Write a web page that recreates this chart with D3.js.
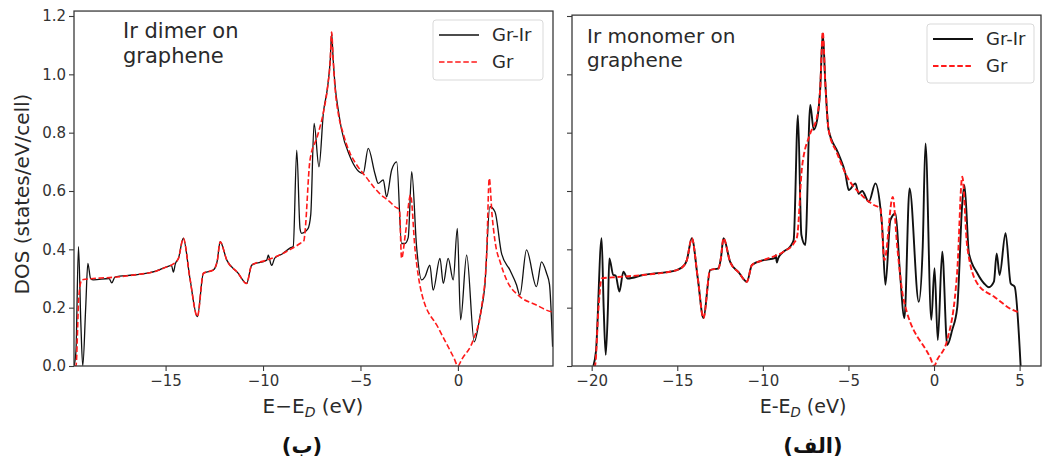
<!DOCTYPE html>
<html><head><meta charset="utf-8">
<script src="https://cdn.jsdelivr.net/npm/d3@7"></script>
<style>
body{margin:0;background:#fff;}
svg{display:block;font-family:"DejaVu Sans",sans-serif;}
</style></head>
<body><svg id="c" width="1043" height="467"></svg>
<script>
// ---------- DATA ----------
// Left panel (Ir dimer on graphene)
const dimerGrE = [-19.7,-19.6,-19.45,-19.3,-18.7,-17.5,-16.65,-15.5,-14.94,-14.6,-14.34,-14.09,-13.75,-13.37,-13.06,-12.55,-12.35,-12.2,-11.86,-11.3,-10.84,-10.58,-9.81,-9.0,-8.6,-8.1,-7.9,-7.85,-7.59,-7.2,-6.9,-6.7,-6.55,-6.48,-6.4,-6.3,-6.14,-5.9,-5.54,-5.2,-4.68,-4.3,-4.0,-3.49,-3.23,-3.0,-2.89,-2.7,-2.43,-2.2,-1.86,-1.0,-0.2,0,0.2,0.79,1.21,1.47,1.61,1.75,1.9,2.2,2.5,3.18,4.0,4.8,4.9];
const dimerGrD = [0,0,0.24,0.295,0.30,0.305,0.312,0.325,0.34,0.35,0.369,0.438,0.30,0.169,0.318,0.329,0.36,0.426,0.363,0.32,0.283,0.346,0.363,0.385,0.40,0.42,0.43,0.456,0.706,0.79,0.87,0.95,1.05,1.145,1.05,0.95,0.866,0.80,0.73,0.69,0.645,0.612,0.59,0.563,0.546,0.535,0.369,0.45,0.586,0.40,0.249,0.13,0.027,0,0.023,0.09,0.20,0.375,0.643,0.52,0.43,0.35,0.295,0.238,0.21,0.186,0.185];
const dimerGrIrE = [-19.7,-19.6,-19.47,-19.35,-19.25,-19.1,-18.99,-18.85,-18.7,-17.9,-17.76,-17.6,-16.65,-15.5,-14.94,-14.7,-14.6,-14.5,-14.34,-14.09,-13.75,-13.37,-13.06,-12.55,-12.35,-12.2,-11.86,-11.3,-10.84,-10.58,-9.81,-9.73,-9.6,-9.55,-9.4,-9.0,-8.6,-8.45,-8.27,-8.1,-8.02,-7.7,-7.55,-7.38,-7.13,-6.9,-6.7,-6.55,-6.48,-6.4,-6.3,-6.14,-5.97,-5.54,-4.86,-4.6,-4.26,-4.09,-3.83,-3.66,-3.4,-3.14,-2.89,-2.72,-2.55,-2.37,-2.12,-1.86,-1.69,-1.44,-1.27,-0.92,-0.75,-0.5,-0.24,-0.03,0.14,0.45,0.84,1.13,1.38,1.64,1.9,2.24,2.67,3.01,3.18,3.52,4.03,4.29,4.55,4.7,4.86];
const dimerGrIrD = [0,0.05,0.409,0.15,0,0.2,0.352,0.30,0.295,0.30,0.285,0.305,0.312,0.325,0.34,0.345,0.322,0.35,0.369,0.438,0.30,0.169,0.318,0.329,0.36,0.426,0.363,0.32,0.283,0.346,0.363,0.38,0.35,0.345,0.37,0.385,0.405,0.41,0.74,0.47,0.455,0.47,0.52,0.832,0.683,0.87,0.95,1.05,1.14,1.05,0.96,0.878,0.81,0.718,0.66,0.746,0.66,0.626,0.638,0.58,0.672,0.70,0.42,0.42,0.44,0.666,0.409,0.295,0.306,0.346,0.26,0.369,0.283,0.369,0.295,0.472,0.158,0.38,0.083,0.169,0.272,0.546,0.529,0.386,0.329,0.278,0.243,0.398,0.272,0.357,0.318,0.28,0.066];

// Right panel (Ir monomer on graphene)
const monoGrE = [-19.9,-19.81,-19.6,-19.42,-18.5,-17.0,-15.03,-14.6,-14.44,-14.15,-13.8,-13.47,-13.08,-12.59,-12.45,-12.3,-11.91,-11.4,-10.93,-10.64,-9.96,-8.79,-8.2,-8.0,-7.71,-7.23,-6.83,-6.65,-6.5,-6.35,-6.16,-5.66,-5.08,-4.3,-3.52,-3.13,-2.9,-2.41,-2.15,-1.77,-0.2,0,0.2,0.77,1.36,1.65,1.94,2.53,3.5,4.87,4.95];
const monoGrD = [0,0,0.2,0.30,0.305,0.312,0.329,0.345,0.363,0.438,0.30,0.164,0.329,0.335,0.37,0.438,0.357,0.32,0.289,0.346,0.363,0.392,0.42,0.443,0.683,0.797,0.855,0.95,1.146,0.97,0.81,0.729,0.649,0.59,0.552,0.54,0.363,0.58,0.409,0.226,0.026,0,0.023,0.089,0.329,0.649,0.409,0.283,0.238,0.186,0.185];
const monoGrIrE = [-19.9,-19.75,-19.42,-19.3,-19.18,-19.05,-18.97,-18.74,-18.6,-18.38,-18.15,-17.9,-17.0,-15.03,-14.6,-14.44,-14.15,-13.8,-13.47,-13.08,-12.59,-12.45,-12.3,-11.91,-11.4,-10.93,-10.64,-9.96,-9.3,-9.25,-9.18,-9.1,-8.79,-8.4,-8.2,-7.95,-7.75,-7.52,-7.23,-7.03,-6.83,-6.65,-6.5,-6.35,-6.16,-5.6,-5.18,-4.98,-4.59,-4.4,-4.2,-3.81,-3.42,-3.13,-3.03,-2.84,-2.55,-2.25,-2.0,-1.73,-1.43,-0.89,-0.66,-0.5,-0.16,0.03,0.22,0.48,0.77,1.06,1.36,1.65,1.78,2.04,2.53,3.01,3.2,3.5,3.66,3.83,4.18,4.48,4.71,5.06];
const monoGrIrD = [0,0.05,0.438,0.2,0.038,0.2,0.369,0.312,0.31,0.255,0.323,0.30,0.312,0.329,0.345,0.363,0.438,0.30,0.164,0.329,0.335,0.37,0.438,0.357,0.32,0.289,0.346,0.363,0.37,0.38,0.355,0.37,0.392,0.41,0.432,0.86,0.45,0.415,0.895,0.81,0.843,0.95,1.14,0.97,0.81,0.73,0.66,0.603,0.626,0.59,0.60,0.563,0.626,0.54,0.478,0.278,0.50,0.523,0.329,0.164,0.609,0.22,0.409,0.763,0.158,0.335,0.089,0.392,0.072,0.123,0.203,0.558,0.62,0.386,0.318,0.278,0.27,0.289,0.386,0.312,0.455,0.283,0.272,0];

const yTicks = [0,0.2,0.4,0.6,0.8,1.0,1.2];
const dimerXTicks = [-15,-10,-5,0];
const monoXTicks = [-20,-15,-10,-5,0,5];
const seriesNames = ["Gr-Ir","Gr"];

// ---------- DRAW ----------
const svg = d3.select("#c");
const textCol = "#2a2a2a", axisCol = "#3a3a3a";

function panel(o){
  const x = d3.scaleLinear().domain(o.xDomain).range([o.left, o.right]);
  const y = d3.scaleLinear().domain([0,1.2]).range([366,16]);
  const g = svg.append("g");
  const top = y(o.yMax), bottom = y(0);

  const line = d3.line().x(d=>x(d[0])).y(d=>y(d[1])).curve(d3.curveMonotoneX);
  const clipId = "clip"+o.id;
  g.append("clipPath").attr("id",clipId).append("rect")
    .attr("x",o.left).attr("y",top).attr("width",o.right-o.left).attr("height",bottom-top);
  g.append("path").datum(d3.zip(o.grIrE,o.grIrD)).attr("d",line)
    .attr("clip-path",`url(#${clipId})`)
    .attr("fill","none").attr("stroke","#111").attr("stroke-width",o.blackW).attr("stroke-linejoin","round");
  g.append("path").datum(d3.zip(o.grE,o.grD)).attr("d",line)
    .attr("clip-path",`url(#${clipId})`)
    .attr("fill","none").attr("stroke","#ff1a1a").attr("stroke-width",o.redW)
    .attr("stroke-dasharray","5.5,2.6");

  const ax = g.append("g").attr("transform",`translate(0,${bottom})`)
    .call(d3.axisBottom(x).tickValues(o.xTicks).tickSize(5).tickSizeOuter(0).tickPadding(4));
  const ay = g.append("g").attr("transform",`translate(${o.left},0)`)
    .call(d3.axisLeft(y).tickValues(yTicks).tickSize(5).tickSizeOuter(0).tickPadding(3)
      .tickFormat(o.yLabels ? d3.format(".1f") : ""));
  [ax,ay].forEach(a=>{
    a.select(".domain").remove();
    a.selectAll("line").attr("stroke",axisCol).attr("stroke-width",1.1);
    a.selectAll("text").attr("fill","#333").style("font-size","15px").style("font-family","DejaVu Sans");
  });
  g.append("rect").attr("x",o.left).attr("y",top).attr("width",o.right-o.left).attr("height",bottom-top)
    .attr("fill","none").attr("stroke",axisCol).attr("stroke-width",1.3);

  const ann = g.append("text").attr("x",o.annX).attr("y",o.annY).attr("fill",textCol)
    .style("font-size",o.annSize+"px");
  o.annLines.forEach((t,i)=>ann.append("tspan").attr("x",o.annX).attr("dy",i?o.annSize*1.2:0).text(t));

  const lg = g.append("g");
  lg.append("rect").attr("x",o.lgX).attr("y",o.lgY).attr("width",o.lgW).attr("height",o.lgH)
    .attr("rx",3).attr("fill","#fff").attr("fill-opacity",0.8).attr("stroke","#d9d9d9");
  seriesNames.forEach((n,i)=>{
    const yy = o.lgY + 15 + i*27;
    lg.append("line").attr("x1",o.lgX+6).attr("x2",o.lgX+46).attr("y1",yy).attr("y2",yy)
      .attr("stroke", i? "#ff1a1a":"#111").attr("stroke-width", i? o.redW : o.blackW)
      .attr("stroke-dasharray", i? "5.5,2.6":null);
    lg.append("text").attr("x",o.lgX+59).attr("y",yy+6).attr("fill",textCol)
      .style("font-size","18px").text(n);
  });

  const xl = g.append("text").attr("x",o.xlX).attr("y",413).attr("text-anchor","middle")
    .attr("fill",textCol).style("font-size",o.xlSize+"px");
  xl.append("tspan").text(o.xlPrefix);
  xl.append("tspan").attr("font-style","italic").attr("dy",4).style("font-size",(o.xlSize*0.7)+"px").text("D");
  xl.append("tspan").attr("dy",-4).text(" (eV)");

  g.append("text").attr("x",o.capX).attr("y",453).attr("text-anchor","middle")
    .attr("fill","#111").attr("font-weight","bold").style("font-size","21px").text(o.caption);
}

panel({id:"a", left:74, right:553, xDomain:[-19.7,4.88], yMax:1.217,
  grE:dimerGrE, grD:dimerGrD, grIrE:dimerGrIrE, grIrD:dimerGrIrD,
  xTicks:dimerXTicks, yLabels:true, blackW:1.3, redW:1.6,
  annX:123, annY:38, annSize:21, annLines:["Ir dimer on","graphene"],
  lgX:433, lgY:20, lgW:110, lgH:60,
  xlX:313, xlSize:20, xlPrefix:"E\u2212E", caption:"(ب)", capX:302});

panel({id:"b", left:572, right:1041, xDomain:[-21.15,6.25], yMax:1.203,
  grE:monoGrE, grD:monoGrD, grIrE:monoGrIrE, grIrD:monoGrIrD,
  xTicks:monoXTicks, yLabels:false, blackW:1.9, redW:1.9,
  annX:587, annY:43, annSize:20, annLines:["Ir monomer on","graphene"],
  lgX:927, lgY:24, lgW:107, lgH:59,
  xlX:803, xlSize:19, xlPrefix:"E-E", caption:"(الف)", capX:813});

svg.append("text").attr("transform","translate(29,194) rotate(-90)").attr("text-anchor","middle")
  .attr("fill",textCol).style("font-size","20px").text("DOS (states/eV/cell)");
</script></body></html>
